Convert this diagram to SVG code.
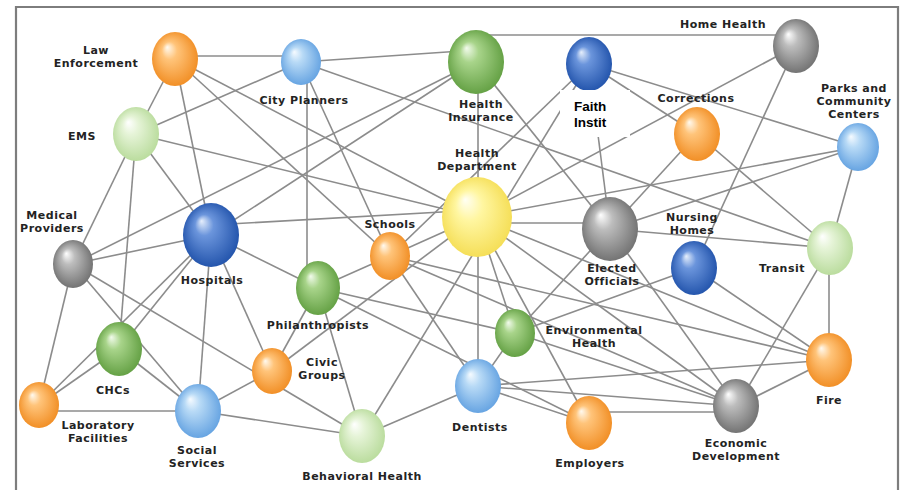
<svg xmlns="http://www.w3.org/2000/svg" width="905" height="490" viewBox="0 0 905 490">
  <defs>
    <!-- glossy sphere fills: highlight up and to the left -->
    <radialGradient id="g-orange" cx="0.5" cy="0.5" r="0.55" fx="0.33" fy="0.28">
      <stop offset="0" stop-color="#fffaf0"/>
      <stop offset="0.3" stop-color="#ffc47a"/>
      <stop offset="1" stop-color="#f08a1e"/>
    </radialGradient>
    <radialGradient id="g-lblue" cx="0.5" cy="0.5" r="0.55" fx="0.33" fy="0.28">
      <stop offset="0" stop-color="#f6fbff"/>
      <stop offset="0.3" stop-color="#b8daf6"/>
      <stop offset="1" stop-color="#5f9fe0"/>
    </radialGradient>
    <radialGradient id="g-blue" cx="0.5" cy="0.5" r="0.55" fx="0.33" fy="0.28">
      <stop offset="0" stop-color="#e6effc"/>
      <stop offset="0.3" stop-color="#6b95dc"/>
      <stop offset="1" stop-color="#1d4fa8"/>
    </radialGradient>
    <radialGradient id="g-green" cx="0.5" cy="0.5" r="0.55" fx="0.33" fy="0.28">
      <stop offset="0" stop-color="#f2fbec"/>
      <stop offset="0.3" stop-color="#a8d48a"/>
      <stop offset="1" stop-color="#5e9c3e"/>
    </radialGradient>
    <radialGradient id="g-lgreen" cx="0.5" cy="0.5" r="0.55" fx="0.33" fy="0.28">
      <stop offset="0" stop-color="#ffffff"/>
      <stop offset="0.3" stop-color="#e6f4d8"/>
      <stop offset="1" stop-color="#b6da98"/>
    </radialGradient>
    <radialGradient id="g-gray" cx="0.5" cy="0.5" r="0.55" fx="0.33" fy="0.28">
      <stop offset="0" stop-color="#ffffff"/>
      <stop offset="0.3" stop-color="#bdbdbd"/>
      <stop offset="1" stop-color="#6c6c6c"/>
    </radialGradient>
    <radialGradient id="g-yellow" cx="0.5" cy="0.5" r="0.55" fx="0.33" fy="0.28">
      <stop offset="0" stop-color="#fffff4"/>
      <stop offset="0.35" stop-color="#fff6a0"/>
      <stop offset="1" stop-color="#f4dc50"/>
    </radialGradient>
  </defs>
  <style>
    .edge { stroke: #8c8c8c; stroke-width: 1.6; fill: none; }
    .lbl { font-family: "DejaVu Sans", "Liberation Sans", sans-serif; font-weight: 700; font-size: 11px; letter-spacing: 0.5px; fill: #232323; text-anchor: middle; }
    .faith { font-family: "Liberation Sans", Arial, sans-serif; font-weight: 700; font-size: 13.5px; fill: #000; }
    .orange { fill: url(#g-orange); }
    .lblue { fill: url(#g-lblue); }
    .blue { fill: url(#g-blue); }
    .green { fill: url(#g-green); }
    .lgreen { fill: url(#g-lgreen); }
    .gray { fill: url(#g-gray); }
    .yellow { fill: url(#g-yellow); }
  </style>

  <rect x="0" y="0" width="905" height="490" fill="#ffffff"/>
  <!-- frame -->
  <path d="M16 500 V7 H898 V500" fill="none" stroke="#7d7d7d" stroke-width="2.2"/>

  <g id="connectors">
    <line class="edge" x1="175" y1="56" x2="301" y2="56"/>
    <line class="edge" x1="175" y1="59" x2="136" y2="134"/>
    <line class="edge" x1="175" y1="59" x2="211" y2="235"/>
    <line class="edge" x1="175" y1="59" x2="390" y2="256"/>
    <line class="edge" x1="175" y1="59" x2="477" y2="217"/>
    <line class="edge" x1="301" y1="62" x2="136" y2="134"/>
    <line class="edge" x1="301" y1="62" x2="476" y2="50"/>
    <line class="edge" x1="307" y1="62" x2="307" y2="288"/>
    <line class="edge" x1="301" y1="62" x2="390" y2="256"/>
    <line class="edge" x1="301" y1="62" x2="830" y2="248"/>
    <line class="edge" x1="136" y1="134" x2="73" y2="264"/>
    <line class="edge" x1="136" y1="134" x2="119" y2="349"/>
    <line class="edge" x1="136" y1="134" x2="211" y2="235"/>
    <line class="edge" x1="136" y1="134" x2="477" y2="217"/>
    <line class="edge" x1="73" y1="264" x2="476" y2="62"/>
    <line class="edge" x1="73" y1="264" x2="211" y2="235"/>
    <line class="edge" x1="73" y1="264" x2="39" y2="405"/>
    <line class="edge" x1="73" y1="264" x2="198" y2="411"/>
    <line class="edge" x1="73" y1="264" x2="362" y2="436"/>
    <line class="edge" x1="211" y1="235" x2="476" y2="62"/>
    <line class="edge" x1="211" y1="225" x2="477" y2="210"/>
    <line class="edge" x1="211" y1="235" x2="318" y2="288"/>
    <line class="edge" x1="211" y1="235" x2="272" y2="371"/>
    <line class="edge" x1="211" y1="235" x2="198" y2="411"/>
    <line class="edge" x1="211" y1="235" x2="119" y2="349"/>
    <line class="edge" x1="211" y1="235" x2="39" y2="405"/>
    <line class="edge" x1="39" y1="405" x2="119" y2="349"/>
    <line class="edge" x1="39" y1="411" x2="198" y2="411"/>
    <line class="edge" x1="119" y1="349" x2="198" y2="411"/>
    <line class="edge" x1="198" y1="411" x2="272" y2="371"/>
    <line class="edge" x1="198" y1="411" x2="362" y2="436"/>
    <line class="edge" x1="272" y1="371" x2="318" y2="288"/>
    <line class="edge" x1="272" y1="371" x2="477" y2="217"/>
    <line class="edge" x1="318" y1="288" x2="390" y2="256"/>
    <line class="edge" x1="318" y1="288" x2="362" y2="436"/>
    <line class="edge" x1="318" y1="288" x2="515" y2="333"/>
    <line class="edge" x1="318" y1="288" x2="589" y2="423"/>
    <line class="edge" x1="362" y1="436" x2="478" y2="386"/>
    <line class="edge" x1="362" y1="436" x2="589" y2="64"/>
    <line class="edge" x1="390" y1="256" x2="477" y2="217"/>
    <line class="edge" x1="390" y1="256" x2="478" y2="386"/>
    <line class="edge" x1="390" y1="256" x2="829" y2="360"/>
    <line class="edge" x1="390" y1="256" x2="737" y2="406"/>
    <line class="edge" x1="390" y1="256" x2="589" y2="64"/>
    <line class="edge" x1="478" y1="62" x2="478" y2="217"/>
    <line class="edge" x1="476" y1="62" x2="610" y2="229"/>
    <line class="edge" x1="480" y1="35" x2="790" y2="35"/>
    <line class="edge" x1="477" y1="217" x2="796" y2="46"/>
    <line class="edge" x1="477" y1="217" x2="858" y2="147"/>
    <line class="edge" x1="477" y1="223" x2="610" y2="223"/>
    <line class="edge" x1="477" y1="217" x2="829" y2="360"/>
    <line class="edge" x1="477" y1="217" x2="737" y2="406"/>
    <line class="edge" x1="477" y1="217" x2="589" y2="423"/>
    <line class="edge" x1="478" y1="217" x2="478" y2="386"/>
    <line class="edge" x1="477" y1="217" x2="515" y2="333"/>
    <line class="edge" x1="589" y1="64" x2="697" y2="134"/>
    <line class="edge" x1="589" y1="64" x2="858" y2="147"/>
    <line class="edge" x1="589" y1="64" x2="610" y2="229"/>
    <line class="edge" x1="796" y1="46" x2="694" y2="268"/>
    <line class="edge" x1="697" y1="134" x2="610" y2="229"/>
    <line class="edge" x1="697" y1="134" x2="830" y2="248"/>
    <line class="edge" x1="858" y1="147" x2="610" y2="229"/>
    <line class="edge" x1="858" y1="147" x2="830" y2="248"/>
    <line class="edge" x1="610" y1="229" x2="830" y2="248"/>
    <line class="edge" x1="610" y1="229" x2="737" y2="406"/>
    <line class="edge" x1="610" y1="229" x2="515" y2="333"/>
    <line class="edge" x1="694" y1="268" x2="515" y2="333"/>
    <line class="edge" x1="694" y1="268" x2="829" y2="360"/>
    <line class="edge" x1="829" y1="248" x2="829" y2="360"/>
    <line class="edge" x1="830" y1="248" x2="737" y2="406"/>
    <line class="edge" x1="829" y1="360" x2="737" y2="406"/>
    <line class="edge" x1="515" y1="333" x2="478" y2="386"/>
    <line class="edge" x1="515" y1="333" x2="737" y2="406"/>
    <line class="edge" x1="478" y1="386" x2="589" y2="423"/>
    <line class="edge" x1="478" y1="386" x2="829" y2="360"/>
    <line class="edge" x1="478" y1="386" x2="737" y2="406"/>
    <line class="edge" x1="589" y1="412" x2="737" y2="412"/>
  </g>

  <g id="law-enforcement">
    <ellipse class="orange" cx="175" cy="59" rx="23" ry="27"/>
    <text class="lbl" x="96" y="54">Law</text>
    <text class="lbl" x="96" y="67">Enforcement</text>
  </g>
  <g id="city-planners">
    <ellipse class="lblue" cx="301" cy="62" rx="20" ry="23"/>
    <text class="lbl" x="304" y="104">City Planners</text>
  </g>
  <g id="health-insurance">
    <ellipse class="green" cx="476" cy="62" rx="28" ry="32"/>
    <text class="lbl" x="481" y="108">Health</text>
    <text class="lbl" x="481" y="121">Insurance</text>
  </g>
  <g id="faith-institutions">
    <ellipse class="blue" cx="589" cy="64" rx="23" ry="27"/>
    <rect x="560" y="90" width="70" height="47" fill="#ffffff"/>
    <text class="faith" x="574" y="111">Faith</text>
    <text class="faith" x="574" y="127">Instit</text>
  </g>
  <g id="home-health">
    <ellipse class="gray" cx="796" cy="46" rx="23" ry="27"/>
    <text class="lbl" x="723" y="28">Home Health</text>
  </g>
  <g id="corrections">
    <ellipse class="orange" cx="697" cy="134" rx="23" ry="27"/>
    <text class="lbl" x="696" y="102">Corrections</text>
  </g>
  <g id="parks">
    <ellipse class="lblue" cx="858" cy="147" rx="21" ry="24"/>
    <text class="lbl" x="854" y="92">Parks and</text>
    <text class="lbl" x="854" y="105">Community</text>
    <text class="lbl" x="854" y="118">Centers</text>
  </g>
  <g id="ems">
    <ellipse class="lgreen" cx="136" cy="134" rx="23" ry="27"/>
    <text class="lbl" x="82" y="140">EMS</text>
  </g>
  <g id="medical-providers">
    <ellipse class="gray" cx="73" cy="264" rx="20" ry="24"/>
    <text class="lbl" x="52" y="219">Medical</text>
    <text class="lbl" x="52" y="232">Providers</text>
  </g>
  <g id="hospitals">
    <ellipse class="blue" cx="211" cy="235" rx="28" ry="32"/>
    <text class="lbl" x="212" y="284">Hospitals</text>
  </g>
  <g id="health-department">
    <ellipse class="yellow" cx="477" cy="217" rx="35" ry="40"/>
    <text class="lbl" x="477" y="157">Health</text>
    <text class="lbl" x="477" y="170">Department</text>
  </g>
  <g id="schools">
    <ellipse class="orange" cx="390" cy="256" rx="20" ry="24"/>
    <text class="lbl" x="390" y="228">Schools</text>
  </g>
  <g id="elected-officials">
    <ellipse class="gray" cx="610" cy="229" rx="28" ry="32"/>
    <text class="lbl" x="612" y="272">Elected</text>
    <text class="lbl" x="612" y="285">Officials</text>
  </g>
  <g id="nursing-homes">
    <ellipse class="blue" cx="694" cy="268" rx="23" ry="27"/>
    <text class="lbl" x="692" y="221">Nursing</text>
    <text class="lbl" x="692" y="234">Homes</text>
  </g>
  <g id="transit">
    <ellipse class="lgreen" cx="830" cy="248" rx="23" ry="27"/>
    <text class="lbl" x="782" y="272">Transit</text>
  </g>
  <g id="philanthropists">
    <ellipse class="green" cx="318" cy="288" rx="22" ry="27"/>
    <text class="lbl" x="318" y="329">Philanthropists</text>
  </g>
  <g id="chcs">
    <ellipse class="green" cx="119" cy="349" rx="23" ry="27"/>
    <text class="lbl" x="113" y="394">CHCs</text>
  </g>
  <g id="laboratory-facilities">
    <ellipse class="orange" cx="39" cy="405" rx="20" ry="23"/>
    <text class="lbl" x="98" y="429">Laboratory</text>
    <text class="lbl" x="98" y="442">Facilities</text>
  </g>
  <g id="social-services">
    <ellipse class="lblue" cx="198" cy="411" rx="23" ry="27"/>
    <text class="lbl" x="197" y="454">Social</text>
    <text class="lbl" x="197" y="467">Services</text>
  </g>
  <g id="civic-groups">
    <ellipse class="orange" cx="272" cy="371" rx="20" ry="23"/>
    <text class="lbl" x="322" y="366">Civic</text>
    <text class="lbl" x="322" y="379">Groups</text>
  </g>
  <g id="behavioral-health">
    <ellipse class="lgreen" cx="362" cy="436" rx="23" ry="27"/>
    <text class="lbl" x="362" y="480">Behavioral Health</text>
  </g>
  <g id="environmental-health">
    <ellipse class="green" cx="515" cy="333" rx="20" ry="24"/>
    <text class="lbl" x="594" y="334">Environmental</text>
    <text class="lbl" x="594" y="347">Health</text>
  </g>
  <g id="dentists">
    <ellipse class="lblue" cx="478" cy="386" rx="23" ry="27"/>
    <text class="lbl" x="480" y="431">Dentists</text>
  </g>
  <g id="employers">
    <ellipse class="orange" cx="589" cy="423" rx="23" ry="27"/>
    <text class="lbl" x="590" y="467">Employers</text>
  </g>
  <g id="economic-development">
    <ellipse class="gray" cx="736" cy="406" rx="23" ry="27"/>
    <text class="lbl" x="736" y="447">Economic</text>
    <text class="lbl" x="736" y="460">Development</text>
  </g>
  <g id="fire">
    <ellipse class="orange" cx="829" cy="360" rx="23" ry="27"/>
    <text class="lbl" x="829" y="404">Fire</text>
  </g>
</svg>
